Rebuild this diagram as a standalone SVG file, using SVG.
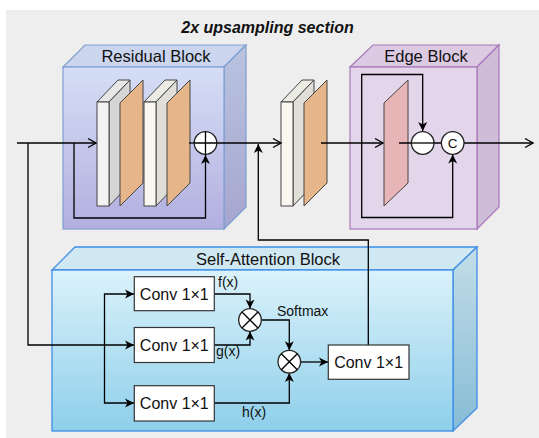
<svg xmlns="http://www.w3.org/2000/svg" width="539" height="438" viewBox="0 0 539 438">
<defs>
<linearGradient id="gRes" x1="0" y1="0" x2="0" y2="1"><stop offset="0" stop-color="#d5def6"/><stop offset="1" stop-color="#b2afdf"/></linearGradient>
<linearGradient id="gResS" x1="0" y1="0" x2="0" y2="1"><stop offset="0" stop-color="#b9c3df"/><stop offset="1" stop-color="#a6a6d0"/></linearGradient>
<linearGradient id="gAtt" x1="0" y1="0" x2="0" y2="1"><stop offset="0" stop-color="#dbf2fb"/><stop offset="1" stop-color="#8ecfea"/></linearGradient>
<linearGradient id="gAttS" x1="0" y1="0" x2="0" y2="1"><stop offset="0" stop-color="#c3dde8"/><stop offset="1" stop-color="#86bcd6"/></linearGradient>
<marker id="open" markerUnits="userSpaceOnUse" markerWidth="12" markerHeight="12" viewBox="0 0 12 12" refX="10" refY="6" orient="auto">
<path d="M2,1.5 L10,6 L2,10.5" fill="none" stroke="#000" stroke-width="1.4"/>
</marker>
<marker id="fill" markerUnits="userSpaceOnUse" markerWidth="12" markerHeight="12" viewBox="0 0 12 12" refX="10" refY="6" orient="auto">
<path d="M1,1.5 L10,6 L1,10.5 L3.5,6 z" fill="#000"/>
</marker>
</defs>
<style>
text{font-family:"Liberation Sans",Arial,sans-serif;fill:#111}
.ttl{font-size:16.5px;text-anchor:middle}
.conv{font-size:16px;text-anchor:middle}
.lbl{font-size:14px}
.ln{fill:none;stroke:#000;stroke-width:1.3}
.box{fill:#fff;stroke:#333;stroke-width:1.2}
.circ{fill:#fff;stroke:#222;stroke-width:1.3}
.pan{stroke:#444;stroke-width:1}
</style>
<rect x="0" y="0" width="539" height="438" fill="#fff"/>
<rect x="6" y="10" width="533" height="428" fill="#eeeeee"/>
<text x="267.5" y="33" style="font-size:16px;font-weight:bold;font-style:italic;text-anchor:middle">2x upsampling section</text>

<g id="residual-block">
<polygon points="63,67 224,67 246,45 85,45" fill="#cbd6ee" stroke="#7f9fd0" stroke-width="1.2"/>
<polygon points="224,67 246,45 246,207 224,229" fill="url(#gResS)" stroke="#7f9fd0" stroke-width="1.2"/>
<rect x="63" y="67" width="161" height="162" fill="url(#gRes)" stroke="#7f9fd0" stroke-width="1.2"/>
<text class="ttl" x="156" y="62">Residual Block</text>
</g>

<g id="edge-block">
<polygon points="350,67 477,67 499,45 373,45" fill="#dccae3" stroke="#a878ba" stroke-width="1.2"/>
<polygon points="477,67 499,45 499,207 477,229" fill="#cfbcd6" stroke="#a878ba" stroke-width="1.2"/>
<rect x="350" y="67" width="127" height="162" fill="#e3d5ea" stroke="#a878ba" stroke-width="1.2"/>
<text class="ttl" x="426" y="62">Edge Block</text>
</g>

<g id="self-attention-block">
<polygon points="52,270 453,270 477,247 75,247" fill="#d0e8f2" stroke="#3d8ee6" stroke-width="1.3"/>
<polygon points="453,270 477,247 477,408 453,431" fill="url(#gAttS)" stroke="#3d8ee6" stroke-width="1.3"/>
<rect x="52" y="270" width="401" height="161" fill="url(#gAtt)" stroke="#3d8ee6" stroke-width="1.3"/>
<text class="ttl" x="268" y="265">Self-Attention Block</text>
</g>

<g id="conv-layer-1">
<polygon class="pan" points="97,102 109,102 130,80 118,80" fill="#e6e6e6"/>
<polygon class="pan" points="109,102 130,80 130,184 109,206" fill="#d5d5d5"/>
<rect class="pan" x="97" y="102" width="12" height="104" fill="#f3f3f3"/>
<polygon class="pan" points="120,206 120,103 143,80 143,183" fill="#e6b68a"/>
</g>
<g id="conv-layer-2">
<polygon class="pan" points="144,102 156,102 177,80 165,80" fill="#ecebe3"/>
<polygon class="pan" points="156,102 177,80 177,184 156,206" fill="#dfded7"/>
<rect class="pan" x="144" y="102" width="12" height="104" fill="#f9f7f0"/>
<polygon class="pan" points="167,206 167,103 190,80 190,183" fill="#e6b68a"/>
</g>
<g id="upsample-layer">
<polygon class="pan" points="281,102 293,102 314,80 302,80" fill="#ecebe3"/>
<polygon class="pan" points="293,102 314,80 314,184 293,206" fill="#dfded7"/>
<rect class="pan" x="281" y="102" width="12" height="104" fill="#f9f7f0"/>
<polygon class="pan" points="304,206 304,103 327,80 327,183" fill="#e6b68a"/>
</g>
<g id="edge-layer">
<polygon class="pan" points="384,206 384,103 408,80 408,183" fill="#e7b5b5"/>
</g>

<g id="connectors">
<path class="ln" d="M17,143 H96" marker-end="url(#open)"/>
<path class="ln" d="M74,143 V218 H205.5 V155" marker-end="url(#fill)"/>
<path class="ln" d="M189,143 H205"/>
<path class="ln" d="M216.5,143 H281" marker-end="url(#open)"/>
<path class="ln" d="M321,143 H383" marker-end="url(#open)"/>
<path class="ln" d="M361.7,143 V74.5 H422.7 V131" marker-end="url(#fill)"/>
<path class="ln" d="M361.7,143 V217.5 H452.7 V154.5" marker-end="url(#fill)"/>
<path class="ln" d="M399,143 H441"/>
<path class="ln" d="M464,143 H533" marker-end="url(#open)"/>
<path class="ln" d="M28,143 V345 H134" marker-end="url(#fill)"/>
<path class="ln" d="M104.5,345 V294 H134" marker-end="url(#fill)"/>
<path class="ln" d="M104.5,345 V403 H134" marker-end="url(#fill)"/>
<path class="ln" d="M214,294 H250 V308.5" marker-end="url(#fill)"/>
<path class="ln" d="M214,345 H250 V331.5" marker-end="url(#fill)"/>
<path class="ln" d="M261.3,320 H289.3 V350.3" marker-end="url(#fill)"/>
<path class="ln" d="M214,403 H289.3 V373" marker-end="url(#fill)"/>
<path class="ln" d="M300.6,362 H328" marker-end="url(#fill)"/>
<path class="ln" d="M368.3,345 V240 H258.3 V144" marker-end="url(#fill)"/>
<text class="lbl" x="218" y="287">f(x)</text>
<text class="lbl" x="216" y="356">g(x)</text>
<text class="lbl" x="242" y="417">h(x)</text>
<text class="lbl" x="277" y="316">Softmax</text>
</g>

<g id="add-op">
<circle class="circ" cx="205.5" cy="143" r="11.3"/>
<path class="ln" d="M194.2,143 H216.8 M205.5,131.7 V154.3"/>
</g>
<g id="subtract-op">
<circle class="circ" cx="422.7" cy="143" r="11.3"/>
<path class="ln" d="M411.4,143 H434"/>
</g>
<g id="concat-op">
<circle class="circ" cx="452.7" cy="143" r="11.3"/>
<text x="452.7" y="148" style="font-size:13.5px;text-anchor:middle">C</text>
</g>

<g id="conv-f">
<rect class="box" x="134.3" y="276.7" width="80" height="34"/>
<text class="conv" x="174.3" y="299.7">Conv 1×1</text>
</g>
<g id="conv-g">
<rect class="box" x="134.3" y="327.5" width="80" height="35"/>
<text class="conv" x="174.3" y="350.8">Conv 1×1</text>
</g>
<g id="conv-h">
<rect class="box" x="134.3" y="385.7" width="80" height="35.3"/>
<text class="conv" x="174.3" y="409.3">Conv 1×1</text>
</g>
<g id="mul-1">
<circle class="circ" cx="250" cy="320" r="11.3"/>
<path class="ln" d="M242,312 L258,328 M258,312 L242,328"/>
</g>
<g id="mul-2">
<circle class="circ" cx="289.3" cy="361.7" r="11.3"/>
<path class="ln" d="M281.3,353.7 L297.3,369.7 M297.3,353.7 L281.3,369.7"/>
</g>
<g id="conv-out">
<rect class="box" x="328.3" y="345" width="80.7" height="34.3"/>
<text class="conv" x="368.6" y="368">Conv 1×1</text>
</g>
</svg>
